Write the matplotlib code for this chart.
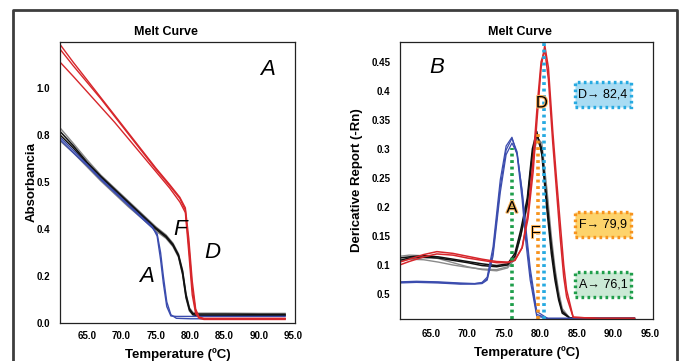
import matplotlib
matplotlib.use("Agg")
import matplotlib.pyplot as plt
import matplotlib.patheffects as pe
from matplotlib.lines import Line2D
from matplotlib.patches import Rectangle

# ---------------- data: panel A (absorbance vs temperature) ----------------
tA_red = [61.1, 63, 65, 67, 69, 71, 73, 75, 77, 78.5, 79.3, 79.8, 80.3, 80.8, 81.3, 82, 85, 90, 93.8]
absA_red = [
    [1.185, 1.11, 1.035, 0.96, 0.885, 0.81, 0.735, 0.66, 0.59, 0.535, 0.49, 0.36, 0.18, 0.06, 0.025, 0.02, 0.02, 0.02, 0.02],
    [1.165, 1.095, 1.025, 0.955, 0.88, 0.805, 0.73, 0.655, 0.585, 0.53, 0.48, 0.33, 0.15, 0.05, 0.022, 0.018, 0.018, 0.018, 0.018],
    [1.11, 1.05, 0.985, 0.92, 0.855, 0.785, 0.715, 0.645, 0.575, 0.515, 0.47, 0.30, 0.12, 0.04, 0.02, 0.015, 0.015, 0.015, 0.015],
]

tA_blk = [61.1, 63, 65, 67, 69, 71, 73, 75, 76.5, 77.5, 78.3, 78.9, 79.4, 79.9, 80.4, 81, 85, 90, 93.8]
absA_grey = [
    [0.83, 0.765, 0.695, 0.63, 0.575, 0.52, 0.465, 0.41, 0.375, 0.34, 0.295, 0.225, 0.125, 0.065, 0.045, 0.042, 0.042, 0.041, 0.041],
    [0.775, 0.725, 0.665, 0.605, 0.55, 0.495, 0.445, 0.392, 0.36, 0.325, 0.28, 0.205, 0.105, 0.05, 0.035, 0.033, 0.033, 0.033, 0.033],
]
absA_blk = [
    [0.815, 0.755, 0.685, 0.625, 0.57, 0.515, 0.46, 0.405, 0.37, 0.335, 0.29, 0.22, 0.12, 0.06, 0.04, 0.038, 0.038, 0.037, 0.037],
    [0.80, 0.745, 0.68, 0.62, 0.565, 0.51, 0.455, 0.40, 0.365, 0.33, 0.285, 0.21, 0.11, 0.055, 0.035, 0.032, 0.032, 0.032, 0.032],
]

tA_blue = [61.1, 63, 65, 67, 69, 71, 73, 74.5, 75.2, 75.7, 76.1, 76.6, 77.2, 78, 80, 85, 90, 93.8]
absA_blue = [
    [0.79, 0.735, 0.675, 0.615, 0.56, 0.505, 0.45, 0.41, 0.37, 0.27, 0.17, 0.07, 0.03, 0.028, 0.028, 0.028, 0.028, 0.028],
    [0.78, 0.725, 0.67, 0.61, 0.555, 0.50, 0.445, 0.405, 0.38, 0.30, 0.20, 0.09, 0.035, 0.02, 0.018, 0.018, 0.018, 0.018],
]

yticksA = [0.0, 0.2, 0.4, 0.6, 0.8, 1.0]
ytlabA = ["0.0", "0.2", "0.4", "0.5", "0.8", "1.0"]
xticks = [65, 70, 75, 80, 85, 90, 95]
xtlab = ["65.0", "70.0", "75.0", "80.0", "85.0", "90.0", "95.0"]

# ---------------- data: panel B (derivative vs temperature) ----------------
tB_blue = [60.7, 63, 66, 69, 71, 72, 72.7, 73.5, 74.5, 75.3, 76.1, 76.8, 77.5, 78.0, 78.6, 79.5, 81, 85, 90, 92.9]
derB_blue = [
    [0.071, 0.072, 0.071, 0.069, 0.068, 0.070, 0.079, 0.131, 0.247, 0.305, 0.320, 0.290, 0.212, 0.14, 0.074, 0.012, 0.008, 0.008, 0.008, 0.008],
    [0.070, 0.071, 0.070, 0.068, 0.068, 0.069, 0.076, 0.122, 0.235, 0.298, 0.318, 0.295, 0.225, 0.155, 0.085, 0.015, 0.008, 0.008, 0.008, 0.008],
    [0.069, 0.070, 0.069, 0.067, 0.067, 0.068, 0.074, 0.115, 0.225, 0.290, 0.310, 0.292, 0.228, 0.165, 0.095, 0.02, 0.008, 0.008, 0.008, 0.008],
]

tB_blk = [60.7, 62, 64, 66, 68, 70, 72, 74, 75.5, 76.5, 77.3, 78.2, 78.9, 79.5, 80.2, 80.9, 81.5, 82.0, 82.5, 83.0, 84, 88, 92.9]
derB_grey = [
    [0.115, 0.117, 0.116, 0.111, 0.104, 0.097, 0.092, 0.090, 0.095, 0.11, 0.15, 0.20, 0.28, 0.315, 0.30, 0.22, 0.14, 0.09, 0.05, 0.022, 0.009, 0.008, 0.008],
    [0.106, 0.110, 0.109, 0.105, 0.100, 0.096, 0.093, 0.092, 0.097, 0.112, 0.155, 0.21, 0.29, 0.32, 0.31, 0.23, 0.15, 0.095, 0.055, 0.025, 0.009, 0.008, 0.008],
]
derB_blk = [
    [0.112, 0.114, 0.116, 0.114, 0.110, 0.106, 0.102, 0.099, 0.102, 0.12, 0.16, 0.215, 0.30, 0.33, 0.29, 0.195, 0.12, 0.074, 0.04, 0.017, 0.009, 0.008, 0.008],
    [0.108, 0.112, 0.113, 0.112, 0.108, 0.104, 0.099, 0.097, 0.10, 0.115, 0.15, 0.205, 0.29, 0.325, 0.30, 0.21, 0.135, 0.085, 0.045, 0.02, 0.009, 0.008, 0.008],
]

tB_red = [60.7, 62, 64, 65.8, 68, 70, 72, 74, 75.5, 76.5, 77.5, 78.3, 79.0, 79.6, 80.1, 80.6, 81.1, 81.7, 82.2, 82.7, 83.2, 83.6, 84.5, 88, 92.9]
derB_red = [
    [0.105, 0.110, 0.118, 0.123, 0.120, 0.115, 0.110, 0.106, 0.105, 0.108, 0.13, 0.18, 0.26, 0.36, 0.44, 0.478, 0.44, 0.33, 0.25, 0.175, 0.10, 0.057, 0.01, 0.008, 0.008],
    [0.100, 0.106, 0.114, 0.119, 0.117, 0.112, 0.108, 0.104, 0.104, 0.108, 0.13, 0.19, 0.28, 0.38, 0.45, 0.47, 0.42, 0.31, 0.23, 0.15, 0.08, 0.045, 0.01, 0.008, 0.008],
]

# dotted markers: (temperature, height, colour, box text, fill, box y)
marks = [
    (76.1, 0.302, "#1f9e4b", "A\u2192 76,1", "#cbe9d5", 0.066),
    (79.7, 0.328, "#f7931e", "F\u2192 79,9", "#fdd36b", 0.170),
    (80.5, 0.484, "#27aae1", "D\u2192 82,4", "#a9dcf3", 0.393),
]

yticksB = [0.05, 0.1, 0.15, 0.2, 0.25, 0.3, 0.35, 0.4, 0.45]
ytlabB = ["0.5", "0.1", "0.15", "0.2", "0.25", "0.3", "0.35", "0.4", "0.45"]

RED, BLUE, BLK, GREY = "#d7262b", "#3b4cae", "#111111", "#8a8a8a"

plt.rcParams["font.family"] = ["Liberation Sans", "DejaVu Sans"]
fig = plt.figure(figsize=(6.8, 3.61), dpi=100)

# outer frame
fx0, fx1, fy1 = 13 / 680, 677 / 680, 1 - 10 / 361
fig.add_artist(Line2D([fx0, fx0, fx1, fx1], [0, fy1, fy1, 0], transform=fig.transFigure,
                      color="#3d3d3d", lw=2))

axA = fig.add_axes([60 / 680, 1 - 323 / 361, 235 / 680, 281 / 361])
axB = fig.add_axes([400 / 680, 1 - 319 / 361, 253 / 680, 277 / 361])


def style(ax):
    for s in ax.spines.values():
        s.set_color("#222222")
        s.set_linewidth(0.9)
    ax.tick_params(length=0, labelsize=7)
    for lab in ax.get_xticklabels() + ax.get_yticklabels():
        lab.set_fontweight("bold")
    ax.set_title("Melt Curve", fontsize=9, fontweight="bold", pad=5)
    ax.set_xlabel("Temperature (\u00baC)", fontsize=9.5, fontweight="bold", labelpad=5)


# ---- panel A ----
for v in absA_grey:
    axA.plot(tA_blk, v, color=GREY, lw=1.0)
for v in absA_blk:
    axA.plot(tA_blk, v, color=BLK, lw=1.1)
for v in absA_blue:
    axA.plot(tA_blue, v, color=BLUE, lw=1.0)
for v in absA_red:
    axA.plot(tA_red, v, color=RED, lw=1.0)

axA.set_xlim(61.08, 95.24)
axA.set_ylim(0, 1.196)
axA.set_xticks(xticks, xtlab)
axA.set_yticks(yticksA, ytlabA)
axA.tick_params(axis="y", pad=7)
axA.tick_params(axis="x", pad=6)
style(axA)
axA.title.set_x(0.45)
axA.set_ylabel("Absorbancia", fontsize=9.5, fontweight="bold", labelpad=-1)

for txt, x, y in [("A", 91.2, 1.077), ("F", 78.5, 0.396), ("D", 83.2, 0.30), ("A", 73.7, 0.196)]:
    axA.text(x, y, txt, fontsize=16, style="italic", ha="center", va="center")

# ---- panel B ----
for v in derB_grey:
    axB.plot(tB_blk, v, color=GREY, lw=1.0)
for v in derB_blk:
    axB.plot(tB_blk, v, color=BLK, lw=1.1)
for v in derB_blue:
    axB.plot(tB_blue, v, color=BLUE, lw=0.9)
for v in derB_red:
    axB.plot(tB_red, v, color=RED, lw=1.1)

box_x, box_w, box_h = 88.6, 7.8, 0.043
for x, h, c, label, fill, by in marks:
    axB.plot([x, x], [0.007, h], color=c, lw=2.6, ls=(0, (0.8, 1.0)))
    axB.add_patch(Rectangle((box_x - box_w / 2, by - box_h / 2), box_w, box_h,
                            fc=fill, ec=c, lw=2.4, ls=(0, (0.8, 1.0)), zorder=3))
    axB.text(box_x, by, label, fontsize=9, ha="center", va="center", zorder=4)

axB.set_xlim(60.74, 95.45)
axB.set_ylim(0.007, 0.484)
axB.set_xticks(xticks, xtlab)
axB.set_yticks(yticksB, ytlabB)
axB.tick_params(axis="y", pad=7)
axB.tick_params(axis="x", pad=7)
style(axB)
axB.title.set_x(0.474)
axB.set_ylabel("Dericative Report (-Rn)", fontsize=9.5, fontweight="bold", labelpad=6)

axB.text(65.8, 0.440, "B", fontsize=16, style="italic", ha="center", va="center")
glow = [pe.withStroke(linewidth=1.5, foreground="#f7b15a")]
for txt, x, y in [("D", 80.2, 0.379), ("A", 76.1, 0.198), ("F", 79.3, 0.155)]:
    axB.text(x, y, txt, fontsize=12, ha="center", va="center", path_effects=glow)

fig.savefig("out.png", dpi=100)
